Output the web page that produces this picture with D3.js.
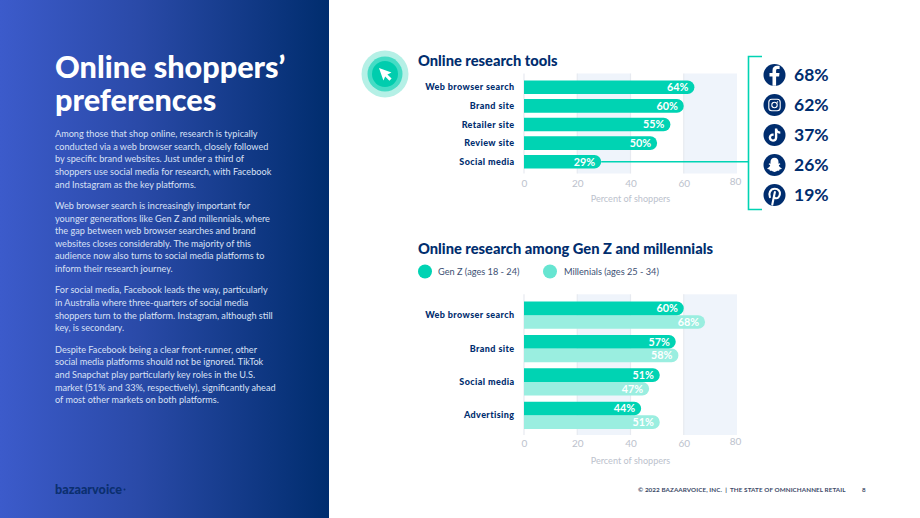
<!DOCTYPE html>
<html>
<head>
<meta charset="utf-8">
<script src="https://cdn.jsdelivr.net/npm/d3@7/dist/d3.min.js"></script>
<style>
html,body{margin:0;padding:0;background:#fff;}
svg{display:block;font-family:Lato,"Open Sans",sans-serif;}
</style>
</head>
<body>
<svg id="page" width="920" height="518"></svg>
<script>
// Research tool shares, all online shoppers
const toolCategories = ["Web browser search", "Brand site", "Retailer site", "Review site", "Social media"];
const toolValues = [64, 60, 55, 50, 29];

// Social platform breakdown
const platformNames = ["facebook", "instagram", "tiktok", "snapchat", "pinterest"];
const platformValues = [68, 62, 37, 26, 19];

// Generation comparison
const genCategories = ["Web browser search", "Brand site", "Social media", "Advertising"];
const genZValues = [60, 57, 51, 44];
const millennialValues = [68, 58, 47, 51];
const legendLabels = ["Gen Z (ages 18 - 24)", "Millenials (ages 25 - 34)"];

const axisTicks = [0, 20, 40, 60, 80];
const axisTitle = "Percent of shoppers";

const pageTitle = ["Online shoppers’", "preferences"];
const paragraphs = [
  ["Among those that shop online, research is typically",
   "conducted via a web browser search, closely followed",
   "by specific brand websites. Just under a third of",
   "shoppers use social media for research, with Facebook",
   "and Instagram as the key platforms."],
  ["Web browser search is increasingly important for",
   "younger generations like Gen Z and millennials, where",
   "the gap between web browser searches and brand",
   "websites closes considerably. The majority of this",
   "audience now also turns to social media platforms to",
   "inform their research journey."],
  ["For social media, Facebook leads the way, particularly",
   "in Australia where three-quarters of social media",
   "shoppers turn to the platform. Instagram, although still",
   "key, is secondary."],
  ["Despite Facebook being a clear front-runner, other",
   "social media platforms should not be ignored. TikTok",
   "and Snapchat play particularly key roles in the U.S.",
   "market (51% and 33%, respectively), significantly ahead",
   "of most other markets on both platforms."]
];

const NAVY = "#002d6e", TEAL = "#00d3b3", LIGHT = "#9aeee0", BAND = "#eff4fb", GRID = "#e7eaf0", MUTED = "#bcc2cd";

const svg = d3.select("#page");
const defs = svg.append("defs");
const grad = defs.append("linearGradient").attr("id", "panelFill");
grad.append("stop").attr("offset", "0").attr("stop-color", "#3c5bcb");
grad.append("stop").attr("offset", "0.42").attr("stop-color", "#2a4aa8");
grad.append("stop").attr("offset", "1").attr("stop-color", "#002d6e");

// Left text panel
const panel = svg.append("g");
panel.append("rect").attr("width", 329).attr("height", 518).attr("fill", "url(#panelFill)");
panel.selectAll("text.title").data(pageTitle).join("text")
  .attr("class", "title").attr("x", 55).attr("y", (d, i) => 78 + i * 33)
  .attr("fill", "#fff").attr("font-size", 30.6).attr("font-weight", 900).text(d => d);

let lineY = 137;
paragraphs.forEach(lines => {
  lines.forEach(line => {
    panel.append("text").attr("x", 55).attr("y", lineY)
      .attr("fill", "#d8e0f5").attr("font-size", 9.15).text(line);
    lineY += 12.65;
  });
  lineY += 8.6;
});
panel.append("text").attr("x", 55).attr("y", 494)
  .attr("fill", "#0b2f6f").attr("font-size", 12.6).attr("font-weight", 900)
  .text("bazaarvoice");
panel.append("circle").attr("cx", 124.5).attr("cy", 489.5).attr("r", 1).attr("fill", "#0b2f6f");

// Footer
svg.append("text").attr("x", 638).attr("y", 492).attr("fill", "#3c4a68")
  .attr("font-size", 6.3).attr("font-weight", 700).attr("letter-spacing", 0.08)
  .style("white-space", "pre")
  .text("© 2022 BAZAARVOICE, INC.  |  THE STATE OF OMNICHANNEL RETAIL");
svg.append("text").attr("x", 862).attr("y", 492).attr("fill", "#3c4a68")
  .attr("font-size", 6.3).attr("font-weight", 700).text("8");

// Shared x scale: both charts use the same 0-80 percent range
const x = d3.scaleLinear().domain([0, 80]).range([524, 737]);

// Rectangle with only its right corners rounded
function barPath(x0, x1, y, h) {
  const r = h / 2;
  const p = d3.path();
  p.moveTo(x0, y);
  p.lineTo(x1 - r, y);
  p.arc(x1 - r, y + r, r, -Math.PI / 2, Math.PI / 2);
  p.lineTo(x0, y + h);
  p.closePath();
  return p.toString();
}

// Alternating shaded bands, tick lines, tick labels and axis title
function drawFrame(top, bottom, labelY, titleY) {
  const g = svg.append("g");
  [[20, 40], [60, 80]].forEach(([a, b]) => {
    g.append("rect").attr("x", x(a)).attr("y", top).attr("width", x(b) - x(a))
      .attr("height", bottom - top).attr("fill", BAND);
  });
  g.selectAll("line").data(axisTicks.slice(0, 4)).join("line")
    .attr("x1", d => x(d)).attr("x2", d => x(d)).attr("y1", top).attr("y2", bottom)
    .attr("stroke", GRID).attr("stroke-width", 1.2);
  const axis = d3.axisBottom(x).tickValues(axisTicks).tickSize(0).tickPadding(0);
  const ag = g.append("g").attr("transform", `translate(0,${labelY - 8})`).call(axis);
  ag.select(".domain").remove();
  ag.selectAll("text").attr("fill", MUTED).attr("font-size", 10).attr("font-family", "Lato");
  // The last tick label sits slightly inward and higher than the others
  ag.selectAll(".tick text").filter(d => d === 80).attr("x", -2).attr("y", -1.8);
  g.append("text").attr("x", 630.5).attr("y", titleY).attr("text-anchor", "middle")
    .attr("fill", MUTED).attr("font-size", 9.1).text(axisTitle);
  return g;
}

// Chart 1: research tools
svg.append("circle").attr("cx", 385).attr("cy", 74).attr("r", 23.5).attr("fill", "#b5f0e6");
svg.append("circle").attr("cx", 385).attr("cy", 74).attr("r", 17.5).attr("fill", "#45dcc5");
svg.append("circle").attr("cx", 385).attr("cy", 74).attr("r", 13).attr("fill", "#00cdae");
svg.append("path").attr("transform", "translate(379,68)")
  .attr("d", "M0 0L12.5 4.5L8.4 6.4L12.6 10.6L10.4 12.8L6.2 8.6L4.4 12.5Z").attr("fill", "#fff");

svg.append("text").attr("x", 418).attr("y", 66).attr("fill", NAVY)
  .attr("font-size", 14.7).attr("font-weight", 900).text("Online research tools");

drawFrame(73.5, 173.5, 188, 202);

const yTools = d3.scaleBand().domain(toolCategories).range([80.5, 168.5]).paddingInner(0.27).paddingOuter(0);

svg.append("g").selectAll("path").data(toolCategories).join("path")
  .attr("d", (c, i) => barPath(x(0), x(toolValues[i]), yTools(c), yTools.bandwidth()))
  .attr("fill", TEAL);
svg.append("g").selectAll("text").data(toolCategories).join("text")
  .attr("x", (c, i) => x(toolValues[i]) - 6).attr("y", c => yTools(c) + yTools.bandwidth() / 2 + 3.8)
  .attr("text-anchor", "end").attr("fill", "#fff").attr("font-size", 10.8).attr("font-weight", 700)
  .text((c, i) => toolValues[i] + "%");
svg.append("g").selectAll("text").data(toolCategories).join("text")
  .attr("x", 514.5).attr("y", c => yTools(c) + yTools.bandwidth() / 2 + 3)
  .attr("text-anchor", "end").attr("fill", NAVY).attr("font-size", 9).attr("font-weight", 900)
  .attr("letter-spacing", 0.4).text(c => c);

// Connector from the social media bar to the platform list
const socialY = yTools("Social media") + yTools.bandwidth() / 2;
svg.append("path")
  .attr("d", `M${x(toolValues[4])} ${socialY}H748M762 56.5H748.5V209.5H762`)
  .attr("fill", "none").attr("stroke", TEAL).attr("stroke-width", 1.6);

// Platform list
const yPlatforms = d3.scalePoint().domain(platformNames).range([75, 195]);
const iconDrawers = {
  facebook(g) {
    g.append("path").attr("fill", "#fff")
      .attr("d", "M1.6 10.8V1.6H4.6L5 -2H1.6V-4.2C1.6 -5.2 1.9 -5.9 3.3 -5.9H5.1V-9.1C4.8 -9.1 3.7 -9.2 2.5 -9.2C-0.1 -9.2 -2 -7.6 -2 -4.6V-2H-5V1.6H-2V10.8Z");
  },
  instagram(g) {
    g.append("rect").attr("x", -5.7).attr("y", -5.7).attr("width", 11.4).attr("height", 11.4).attr("rx", 3)
      .attr("fill", "none").attr("stroke", "#fff").attr("stroke-width", 1.1);
    g.append("circle").attr("r", 2.7).attr("fill", "none").attr("stroke", "#fff").attr("stroke-width", 1.1);
    g.append("circle").attr("cx", 3).attr("cy", -3).attr("r", 0.7).attr("fill", "#fff");
  },
  tiktok(g) {
    g.append("path").attr("fill", "#fff")
      .attr("d", "M0.4 -6.6H2.7C2.9 -4.8 4 -3.7 5.8 -3.5V-1.3C4.6 -1.3 3.6 -1.7 2.8 -2.3V2.4C2.8 5 0.9 6.8 -1.5 6.8C-4 6.8 -5.8 4.9 -5.8 2.6C-5.8 0 -3.4 -1.9 -0.9 -1.4V0.9C-2.2 0.5 -3.4 1.3 -3.4 2.6C-3.4 3.7 -2.6 4.5 -1.5 4.5C-0.4 4.5 0.4 3.7 0.4 2.5Z");
  },
  snapchat(g) {
    g.append("path").attr("fill", "#fff")
      .attr("d", "M0 -7.2C2.6 -7.2 4 -5.3 4 -3V-1.3L5.4 -1.7L5.8 -0.7L4.3 0.2C4.6 1.6 5.8 2.8 7.2 3.2L7 4.1L5 4.6L4.6 5.8L2.8 5.7C1.8 6.2 1 6.9 0 6.9C-1 6.9 -1.8 6.2 -2.8 5.7L-4.6 5.8L-5 4.6L-7 4.1L-7.2 3.2C-5.8 2.8 -4.6 1.6 -4.3 0.2L-5.8 -0.7L-5.4 -1.7L-4 -1.3V-3C-4 -5.3 -2.6 -7.2 0 -7.2Z");
  },
  pinterest(g) {
    g.append("path").attr("fill", "none").attr("stroke", "#fff").attr("stroke-width", 2.1).attr("stroke-linecap", "round")
      .attr("d", "M-4.6 2.1C-6.2 -1.2 -4.4 -6.2 0.3 -6.2C4 -6.2 5.8 -3.6 5.4 -0.8C5 2 3 3.7 1.1 3.2C-0.2 2.8 -0.6 1.8 -0.5 0.9M0.4 -3L-2.2 9.5");
  }
};
platformNames.forEach((name, i) => {
  const g = svg.append("g").attr("transform", `translate(774.5,${yPlatforms(name)})`);
  g.append("circle").attr("r", 11).attr("fill", NAVY);
  iconDrawers[name](g);
  svg.append("text").attr("x", 794).attr("y", yPlatforms(name) + 6)
    .attr("fill", NAVY).attr("font-size", 17.5).attr("font-weight", 700).text(platformValues[i] + "%");
});

// Chart 2: generations
svg.append("text").attr("x", 418).attr("y", 254).attr("fill", NAVY)
  .attr("font-size", 14.7).attr("font-weight", 900).text("Online research among Gen Z and millennials");

[[425, "#00d3b3", 438], [550, "#66e5d1", 564]].forEach(([cx, fill, tx], i) => {
  svg.append("circle").attr("cx", cx).attr("cy", 271.5).attr("r", 7).attr("fill", fill);
  svg.append("text").attr("x", tx).attr("y", 275).attr("fill", "#3c4f73")
    .attr("font-size", 9.2).text(legendLabels[i]);
});

drawFrame(294.3, 435, 448, 464);

const yGen = d3.scaleBand().domain(genCategories).range([301.5, 429]).paddingInner(0.18).paddingOuter(0);
const yRow = d3.scaleBand().domain(["z", "m"]).range([0, yGen.bandwidth()]);

function drawSeries(values, key, fill) {
  svg.append("g").selectAll("path").data(genCategories).join("path")
    .attr("d", (c, i) => barPath(x(0), x(values[i]), yGen(c) + yRow(key), yRow.bandwidth()))
    .attr("fill", fill);
}
// Millennial bars sit beneath the Gen Z bars
drawSeries(millennialValues, "m", LIGHT);
drawSeries(genZValues, "z", TEAL);

[[genZValues, "z"], [millennialValues, "m"]].forEach(([values, key]) => {
  svg.append("g").selectAll("text").data(genCategories).join("text")
    .attr("x", (c, i) => x(values[i]) - 6).attr("y", c => yGen(c) + yRow(key) + yRow.bandwidth() / 2 + 3.8)
    .attr("text-anchor", "end").attr("fill", "#fff").attr("font-size", 10.8).attr("font-weight", 700)
    .text((c, i) => values[i] + "%");
});
svg.append("g").selectAll("text").data(genCategories).join("text")
  .attr("x", 514.5).attr("y", c => yGen(c) + yRow.bandwidth() + 3)
  .attr("text-anchor", "end").attr("fill", NAVY).attr("font-size", 9).attr("font-weight", 900)
  .attr("letter-spacing", 0.4).text(c => c);
</script>
</body>
</html>
